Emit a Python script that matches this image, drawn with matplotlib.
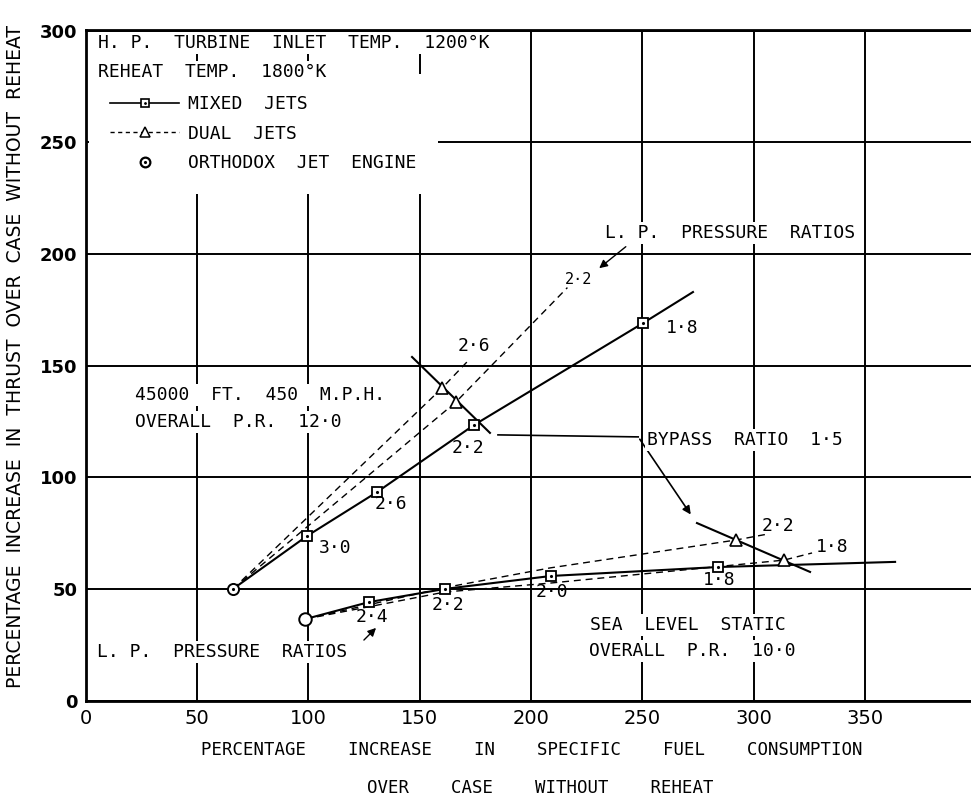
import matplotlib
matplotlib.use("Agg")
import matplotlib.pyplot as plt
from matplotlib.lines import Line2D
from matplotlib.legend_handler import HandlerTuple

plt.rcParams['font.family'] = ['DejaVu Sans Mono', 'DejaVu Sans']

# ---------------- data ----------------
# 45000 ft, 450 mph, overall P.R. 12.0
orth_hi_sfc, orth_hi_thrust = 66.2, 50.0
mixed_hi_sfc = [99.4, 130.9, 174.4, 250.4]
mixed_hi_thrust = [73.7, 93.4, 123.4, 169.1]
mixed_hi_pr = ['3·0', '2·6', '2·2', '1·8']
mixed_hi_end = (272.8, 183.0)

dual_hi_26_sfc = [66.2, 160.1, 171.3]
dual_hi_26_thrust = [50.0, 140.0, 151.7]
dual_hi_22_sfc = [66.2, 166.3, 216.4]
dual_hi_22_thrust = [50.0, 133.7, 185.0]
dual_hi_tri_sfc = [160.1, 166.3]
dual_hi_tri_thrust = [140.0, 133.7]

bypass_hi_sfc = [146.6, 181.6]
bypass_hi_thrust = [153.9, 119.9]

# Sea level static, overall P.R. 10.0
orth_lo_sfc, orth_lo_thrust = 98.7, 36.5
mixed_lo_sfc = [127.3, 161.4, 209.1, 284.1]
mixed_lo_thrust = [44.1, 50.0, 55.8, 59.8]
mixed_lo_pr = ['2·4', '2·2', '2·0', '1·8']
mixed_lo_end = (363.6, 62.1)

dual_lo_22_sfc = [98.7, 161.4, 208.6, 292.1, 306.5]
dual_lo_22_thrust = [36.5, 50.6, 59.4, 71.9, 74.6]
dual_lo_18_sfc = [98.7, 161.4, 208.6, 250.4, 313.7, 326.3]
dual_lo_18_thrust = [36.5, 48.6, 52.6, 56.7, 62.9, 66.1]
dual_lo_tri_sfc = [292.1, 313.7]
dual_lo_tri_thrust = [71.9, 62.9]

bypass_lo_sfc = [274.6, 325.4]
bypass_lo_thrust = [79.5, 57.6]

x_ticks = [0, 50, 100, 150, 200, 250, 300, 350]
y_ticks = [0, 50, 100, 150, 200, 250, 300]

# ---------------- figure ----------------
fig = plt.figure(figsize=(9.71, 8.0), dpi=100)
ax = fig.add_axes([85.7 / 971, (800 - 700.5) / 800, (971 - 85.7) / 971, (700.5 - 30) / 800])
ax.set_xlim(0, 397.7)
ax.set_ylim(0, 300.4)

for s in ['left', 'bottom', 'top']:
    ax.spines[s].set_linewidth(2.0)
    ax.spines[s].set_zorder(9)
ax.spines['right'].set_visible(False)

ax.set_xticks(x_ticks)
ax.set_yticks(y_ticks)
ax.set_xticklabels([str(v) for v in x_ticks], fontsize=14, family='DejaVu Sans')
ax.set_yticklabels([str(v) for v in y_ticks], fontsize=13, family='DejaVu Sans', fontweight='bold')
ax.tick_params(axis='both', length=0)
ax.tick_params(axis='x', pad=6)
ax.tick_params(axis='y', pad=6)
ax.grid(True, color='black', linewidth=1.4)
ax.set_axisbelow(True)

LW = 1.5
DASH = (0, (5, 3.5))
tfs = 13
wbox = dict(facecolor='white', edgecolor='none', pad=1.5)

# Upper family
ax.plot([orth_hi_sfc] + mixed_hi_sfc + [mixed_hi_end[0]],
        [orth_hi_thrust] + mixed_hi_thrust + [mixed_hi_end[1]],
        color='black', lw=LW, zorder=3)
ax.plot(dual_hi_26_sfc, dual_hi_26_thrust, color='black', lw=1.0, ls=DASH, zorder=3)
ax.plot(dual_hi_22_sfc, dual_hi_22_thrust, color='black', lw=1.0, ls=DASH, zorder=3)
ax.plot(bypass_hi_sfc, bypass_hi_thrust, color='black', lw=LW, zorder=3)

# Lower family
ax.plot([orth_lo_sfc] + mixed_lo_sfc + [mixed_lo_end[0]],
        [orth_lo_thrust] + mixed_lo_thrust + [mixed_lo_end[1]],
        color='black', lw=LW, zorder=3)
ax.plot(dual_lo_22_sfc, dual_lo_22_thrust, color='black', lw=1.0, ls=DASH, zorder=3)
ax.plot(dual_lo_18_sfc, dual_lo_18_thrust, color='black', lw=1.0, ls=DASH, zorder=3)
ax.plot(bypass_lo_sfc, bypass_lo_thrust, color='black', lw=LW, zorder=3)

# markers
sq = dict(marker='s', ms=7, mfc='white', mec='black', mew=1.3, ls='none', zorder=5)
tri = dict(marker='^', ms=8, mfc='white', mec='black', mew=1.2, ls='none', zorder=5)
dot = dict(marker='.', ms=2.5, color='black', ls='none', zorder=6)
ax.plot(mixed_hi_sfc, mixed_hi_thrust, **sq)
ax.plot(mixed_hi_sfc, mixed_hi_thrust, **dot)
ax.plot(mixed_lo_sfc, mixed_lo_thrust, **sq)
ax.plot(mixed_lo_sfc, mixed_lo_thrust, **dot)
ax.plot(dual_hi_tri_sfc, dual_hi_tri_thrust, **tri)
ax.plot(dual_lo_tri_sfc, dual_lo_tri_thrust, **tri)
ax.plot([orth_hi_sfc], [orth_hi_thrust], marker='o', ms=8, mfc='white', mec='black', mew=1.4, ls='none', zorder=5)
ax.plot([orth_hi_sfc], [orth_hi_thrust], **dot)
ax.plot([orth_lo_sfc], [orth_lo_thrust], marker='o', ms=9, mfc='white', mec='black', mew=1.4, ls='none', zorder=5)

# pressure ratio labels
hi_lab_pos = [(112.0, 68.3), (137.1, 88.0), (171.7, 113.1), (268.0, 166.9)]
for lab, (xx, yy) in zip(mixed_hi_pr, hi_lab_pos):
    ax.text(xx, yy, lab, fontsize=tfs, ha='center', va='center', zorder=7)
lo_lab_pos = [(128.6, 37.4), (162.8, 42.8), (209.5, 48.6), (284.5, 54.0)]
for lab, (xx, yy) in zip(mixed_lo_pr, lo_lab_pos):
    ax.text(xx, yy, lab, fontsize=tfs, ha='center', va='center', zorder=7)

ax.text(174.4, 158.8, '2·6', fontsize=tfs, ha='center', va='center', zorder=7)
ax.text(221.6, 188.8, '2·2', fontsize=11, ha='center', va='center', zorder=7)
ax.text(311.0, 78.2, '2·2', fontsize=tfs, ha='center', va='center', zorder=7)
ax.text(335.2, 68.8, '1·8', fontsize=tfs, ha='center', va='center', zorder=7)

# annotations
ax.text(233.4, 209.4, 'L. P.  PRESSURE  RATIOS', fontsize=tfs, ha='left', va='center', bbox=wbox, zorder=7)
ax.annotate('', xy=(229.7, 192.9), xytext=(243.6, 204.1),
            arrowprops=dict(arrowstyle='-|>', color='black', lw=1.0, mutation_scale=12), zorder=7)
ax.text(5.1, 21.7, 'L. P.  PRESSURE  RATIOS', fontsize=tfs, ha='left', va='center', bbox=wbox, zorder=7)
ax.annotate('', xy=(131.3, 33.4), xytext=(124.1, 26.2),
            arrowprops=dict(arrowstyle='-|>', color='black', lw=1.0, mutation_scale=12), zorder=7)

ax.text(22.0, 136.9, '45000  FT.  450  M.P.H.', fontsize=tfs, ha='left', va='center', bbox=wbox, zorder=7)
ax.text(22.0, 124.8, 'OVERALL  P.R.  12·0', fontsize=tfs, ha='left', va='center', bbox=wbox, zorder=7)

ax.plot([185.2, 248.2], [119.0, 118.1], color='black', lw=1.2, zorder=3)
ax.annotate('', xy=(272.5, 82.3), xytext=(248.2, 118.1),
            arrowprops=dict(arrowstyle='-|>', color='black', lw=1.2, mutation_scale=12), zorder=7)
ax.text(252.2, 116.7, 'BYPASS  RATIO  1·5', fontsize=tfs, ha='left', va='center', bbox=wbox, zorder=7)

ax.text(226.5, 33.8, 'SEA  LEVEL  STATIC', fontsize=tfs, ha='left', va='center', bbox=wbox, zorder=7)
ax.text(226.1, 22.2, 'OVERALL  P.R.  10·0', fontsize=tfs, ha='left', va='center', bbox=wbox, zorder=7)

ax.text(5.6, 294.6, 'H. P.  TURBINE  INLET  TEMP.  1200°K', fontsize=tfs, ha='left', va='center', bbox=wbox, zorder=7)
ax.text(5.6, 281.6, 'REHEAT  TEMP.  1800°K', fontsize=tfs, ha='left', va='center', bbox=wbox, zorder=7)

# legend
h_mixed = (Line2D([], [], color='black', lw=1.2),
           Line2D([], [], marker='s', ms=6, mfc='white', mec='black', mew=1.2, ls='none'),
           Line2D([], [], marker='.', ms=2, color='black', ls='none'))
h_dual = (Line2D([], [], color='black', lw=1.0, ls=(0, (3, 2.5))),
          Line2D([], [], marker='^', ms=7, mfc='white', mec='black', mew=1.1, ls='none'))
h_orth = (Line2D([], [], marker='o', ms=7, mfc='white', mec='black', mew=1.6, ls='none'),
          Line2D([], [], marker='.', ms=2.5, color='black', ls='none'))
leg = ax.legend([h_mixed, h_dual, h_orth], ['MIXED  JETS', 'DUAL  JETS', 'ORTHODOX  JET  ENGINE'],
                handler_map={tuple: HandlerTuple(ndivide=1, pad=0)},
                loc='upper left', bbox_to_anchor=(0.0035, 0.9347), fontsize=tfs,
                frameon=True, fancybox=False, facecolor='white', edgecolor='none', framealpha=1.0,
                borderpad=1.2, borderaxespad=0, handlelength=3.8, handletextpad=0.5,
                labelspacing=0.62, numpoints=1)
leg.set_zorder(6)

# axis titles
fig.text(16 / 971, 1 - 356 / 800, 'PERCENTAGE  INCREASE  IN  THRUST  OVER  CASE  WITHOUT  REHEAT',
         rotation=90, ha='center', va='center', fontsize=13.5, family='DejaVu Sans')
fig.text(532 / 971, 1 - 750 / 800, 'PERCENTAGE    INCREASE    IN    SPECIFIC    FUEL    CONSUMPTION',
         ha='center', va='center', fontsize=12.5)
fig.text(540 / 971, 1 - 788 / 800, 'OVER    CASE    WITHOUT    REHEAT',
         ha='center', va='center', fontsize=12.5)

fig.savefig('out.png', dpi=100)
